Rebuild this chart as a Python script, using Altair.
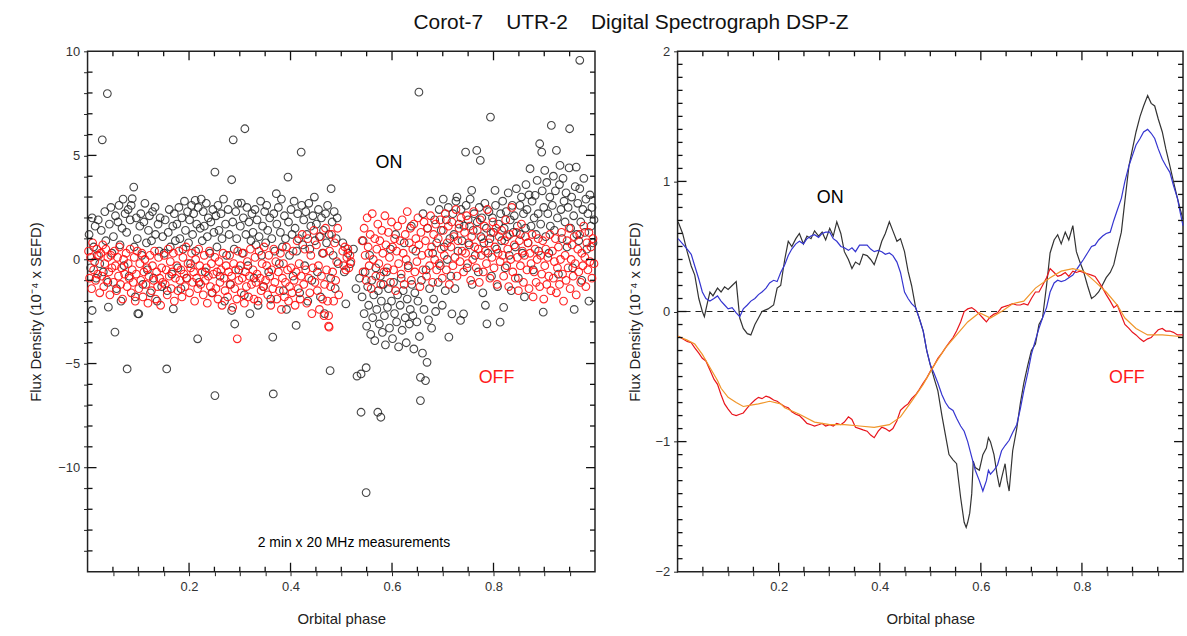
import altair as alt
import pandas as pd

# ---------------- left panel: individual 2-min measurements ----------------
on_points = [
    (0.003,1.2),(0.006,-0.4),(0.009,2.0),(0.009,-2.45),(0.012,0.6),(0.015,1.6),(0.017,-0.9),(0.019,0.2),(0.021,1.9),(0.024,-0.2),
    (0.027,1.4),(0.029,5.75),(0.031,-0.6),(0.034,2.3),(0.036,0.9),(0.039,7.97),(0.040,-1.1),(0.041,-2.29),(0.043,1.7),(0.046,2.5),(0.048,0.3),
    (0.051,1.1),(0.054,-3.49),(0.055,2.1),(0.057,-1.4),(0.060,1.8),(0.062,2.6),(0.064,0.7),(0.066,-2.0),(0.068,1.5),(0.070,2.9),(0.072,-0.3),(0.074,2.2),
    (0.077,1.3),(0.078,-5.26),(0.080,2.4),(0.082,-0.8),(0.084,1.9),(0.086,2.6),(0.088,2.92),(0.091,3.48),(0.092,0.6),(0.094,-1.8),(0.096,2.0),(0.098,1.0),(0.099,-2.6),
    (0.101,-2.61),(0.103,1.6),(0.105,2.2),(0.107,0.2),(0.109,-1.2),(0.111,1.8),(0.113,2.7),(0.116,0.8),(0.118,-0.5),(0.120,1.4),(0.122,2.1),(0.124,-1.6),
    (0.126,0.9),(0.128,2.3),(0.130,-0.9),(0.133,2.51),(0.134,1.2),(0.137,-2.0),(0.139,1.7),(0.141,0.4),(0.143,2.0),(0.146,-1.3),(0.148,1.1),
    (0.151,0.3),(0.153,1.9),(0.156,-5.26),(0.157,-1.5),(0.159,1.3),(0.161,2.4),(0.163,0.6),(0.166,-0.7),(0.168,1.6),(0.169,-2.37),(0.171,2.2),(0.173,0.9),
    (0.176,1.7),(0.178,-0.4),(0.180,2.5),(0.182,1.0),(0.184,-1.4),(0.186,2.0),(0.188,0.5),(0.191,2.8),(0.193,1.4),(0.195,-0.9),(0.197,2.3),(0.199,0.8),
    (0.201,1.9),(0.203,-0.2),(0.205,2.6),(0.207,1.2),(0.209,2.2),(0.212,2.84),(0.213,0.4),(0.215,1.7),(0.217,-3.81),(0.218,2.5),(0.220,-1.1),(0.222,1.5),(0.224,2.9),
    (0.226,0.9),(0.228,2.3),(0.230,1.6),(0.232,-0.6),(0.234,2.7),(0.236,1.1),(0.238,2.0),(0.241,0.3),(0.243,1.8),(0.245,-1.6),(0.247,2.4),(0.249,1.3),
    (0.251,4.2),(0.251,-6.54),(0.253,2.1),(0.255,0.6),(0.257,2.6),(0.259,1.4),(0.261,-0.8),(0.263,2.2),(0.265,1.0),(0.268,2.9),(0.270,-2.0),(0.272,1.7),(0.274,0.2),
    (0.277,2.4),(0.279,1.2),(0.281,-1.2),(0.284,3.83),(0.284,-2.45),(0.286,1.8),(0.287,5.75),(0.289,0.5),(0.290,-3.1),(0.292,2.3),(0.294,1.0),(0.296,2.7),(0.298,-0.5),
    (0.301,1.6),(0.303,2.71),(0.305,0.3),(0.307,2.0),(0.309,-1.7),(0.310,6.28),(0.312,1.2),(0.314,2.5),(0.316,-0.3),(0.318,1.8),(0.320,-2.6),(0.322,0.9),(0.324,2.2),
    (0.326,1.3),(0.328,-0.9),(0.330,2.4),(0.332,0.7),(0.334,1.9),(0.336,-2.2),(0.338,1.1),(0.341,2.8),(0.343,0.2),(0.345,1.6),(0.347,-1.3),(0.349,2.3),
    (0.351,0.8),(0.353,2.6),(0.355,1.4),(0.357,-0.6),(0.359,2.0),(0.361,-1.9),(0.363,1.0),(0.365,-3.73),(0.366,-6.46),(0.367,2.2),(0.369,0.4),(0.372,3.16),(0.373,1.7),
    (0.376,2.5),(0.378,-0.2),(0.380,1.3),(0.382,2.9),(0.384,0.6),(0.386,-1.5),(0.388,2.1),(0.390,1.0),(0.392,-2.4),(0.395,3.96),(0.396,1.8),(0.398,0.2),
    (0.401,2.4),(0.403,1.2),(0.405,-0.8),(0.407,2.8),(0.409,1.5),(0.411,-3.17),(0.412,0.4),(0.414,2.2),(0.416,1.0),(0.418,-1.6),(0.421,5.16),(0.422,2.6),(0.424,0.7),
    (0.426,1.9),(0.428,-0.3),(0.430,2.3),(0.432,1.2),(0.434,-2.0),(0.436,2.7),(0.438,0.5),(0.440,1.6),(0.442,-1.0),(0.444,2.1),(0.447,3.0),(0.448,0.9),
    (0.451,1.7),(0.453,-0.6),(0.455,2.4),(0.457,1.1),(0.459,-1.8),(0.461,2.0),(0.463,0.3),(0.465,1.4),(0.467,-2.6),(0.469,2.2),(0.471,0.8),(0.473,2.6),
    (0.476,1.2),(0.478,-5.34),(0.479,-0.9),(0.480,3.4),(0.482,1.8),(0.484,0.2),(0.486,2.3),(0.488,-1.4),(0.490,1.0),(0.492,2.0),(0.494,-0.2),
    (0.503,0.8),(0.506,-0.6),(0.509,-2.13),(0.513,0.3),(0.518,-0.2),(0.524,0.5),(0.529,-1.4),(0.531,-5.6),(0.536,-0.9),(0.539,-5.5),(0.539,-7.34),
    (0.541,-1.8),(0.543,0.9),(0.545,-2.6),(0.547,-0.6),(0.549,-5.2),(0.549,-11.2),(0.550,-3.2),(0.552,-1.3),(0.554,-2.2),(0.556,0.2),(0.558,-3.6),(0.560,-1.0),(0.562,-2.8),(0.564,-1.7),
    (0.566,-3.9),(0.568,-0.4),(0.570,-2.4),(0.572,-7.34),(0.573,-1.5),(0.575,-3.1),(0.577,-0.8),(0.578,-7.58),(0.579,-2.0),(0.581,-3.5),(0.583,-1.2),(0.585,-2.7),(0.587,-4.1),(0.589,-0.6),
    (0.591,-2.3),(0.593,-1.4),(0.595,-3.3),(0.597,0.5),(0.599,-2.0),(0.601,-3.8),(0.603,-1.1),(0.605,-2.6),(0.607,1.2),(0.609,-3.0),(0.611,-1.7),(0.613,-4.2),
    (0.616,-2.2),(0.618,-0.9),(0.620,-3.4),(0.622,-1.5),(0.624,0.8),(0.626,-2.8),(0.628,-4.0),(0.630,-1.9),(0.632,-0.3),(0.634,-3.1),(0.636,-2.4),(0.638,1.6),(0.639,-1.2),
    (0.641,-2.7),(0.643,-4.3),(0.645,-1.6),(0.647,0.4),(0.649,-3.0),(0.651,-2.0),(0.653,8.04),(0.654,-3.7),(0.656,-5.66),(0.656,-6.78),(0.658,-1.0),(0.660,-4.5),(0.661,2.2),(0.663,-2.4),
    (0.666,-5.82),(0.667,-0.5),(0.669,-4.94),(0.670,1.5),(0.672,-2.9),(0.674,-1.4),(0.676,2.8),(0.678,-3.3),(0.680,0.3),(0.682,-1.9),(0.684,1.9),(0.686,-2.5),(0.688,0.8),
    (0.691,-1.1),(0.693,2.4),(0.695,-0.3),(0.697,1.4),(0.699,-2.2),(0.701,2.9),(0.703,0.6),(0.705,-1.5),(0.707,1.9),(0.709,0.0),(0.711,2.5),(0.712,-3.73),(0.714,1.0),
    (0.716,-0.8),(0.718,-2.61),(0.720,2.2),(0.722,1.2),(0.724,-1.4),(0.726,2.8),(0.728,3.0),(0.730,0.4),(0.732,1.7),(0.735,-2.93),(0.736,2.4),(0.738,0.9),(0.741,-2.61),
    (0.742,1.6),(0.745,5.16),(0.746,2.6),(0.748,-0.4),(0.750,1.9),(0.752,0.7),(0.754,2.9),(0.757,3.32),(0.758,-1.2),(0.760,1.4),(0.762,2.2),(0.764,0.2),
    (0.767,5.24),(0.768,1.8),(0.770,-0.6),(0.772,2.5),(0.774,4.76),(0.775,1.1),(0.777,2.0),(0.779,-1.6),(0.781,0.8),(0.783,2.7),(0.784,-2.2),(0.786,1.5),(0.787,-3.09),(0.789,0.3),
    (0.791,2.3),(0.793,1.0),(0.794,6.84),(0.796,-0.8),(0.798,2.0),(0.800,1.3),(0.803,3.32),(0.804,2.6),(0.806,0.5),(0.808,-1.3),(0.810,1.7),(0.813,-3.01),(0.814,2.2),
    (0.816,0.9),(0.818,2.8),(0.820,-2.3),(0.821,1.5),(0.823,-0.4),(0.825,2.3),(0.827,1.1),(0.829,3.2),(0.831,0.2),(0.833,1.9),(0.835,-1.5),(0.837,2.6),(0.839,1.3),
    (0.841,2.1),(0.843,0.6),(0.845,3.4),(0.847,1.6),(0.849,-0.9),(0.852,2.6),(0.853,1.2),(0.855,3.0),(0.857,0.3),(0.859,2.2),(0.861,-1.8),(0.863,1.5),(0.864,3.6),
    (0.866,2.4),(0.868,0.8),(0.870,3.1),(0.872,4.36),(0.874,1.6),(0.876,2.8),(0.878,-0.5),(0.880,2.0),(0.882,3.08),(0.884,1.2),(0.886,3.8),(0.888,2.2),(0.889,0.4),
    (0.891,5.56),(0.893,1.7),(0.895,5.16),(0.896,3.3),(0.898,-2.53),(0.899,2.5),(0.901,4.28),(0.903,1.1),(0.905,3.7),(0.907,2.2),(0.909,0.3),(0.911,3.0),(0.912,1.6),(0.914,6.44),
    (0.916,2.6),(0.918,4.0),(0.920,1.4),(0.922,3.3),(0.924,5.24),(0.926,2.0),(0.928,-0.7),(0.930,3.6),(0.931,4.52),(0.933,2.4),(0.935,1.0),(0.937,3.9),(0.939,2.8),
    (0.941,1.8),(0.943,3.2),(0.945,0.6),(0.947,2.5),(0.949,4.4),(0.950,6.28),(0.952,1.5),(0.954,3.0),(0.956,-0.4),(0.958,2.1),(0.959,-2.4),(0.961,3.5),(0.963,4.44),(0.964,1.2),
    (0.966,2.7),(0.968,0.9),(0.970,3.4),(0.970,9.57),(0.972,1.8),(0.974,-1.0),(0.976,2.4),(0.978,3.9),(0.980,1.3),(0.982,2.9),(0.984,0.5),(0.986,2.2),(0.988,-2.0),(0.990,3.1),(0.992,1.6),(0.994,2.5),(0.996,0.8),(0.998,1.9),
]

off_points = [
    (0.002,0.4),(0.004,-0.9),(0.006,0.1),(0.008,-1.4),(0.010,0.8),(0.012,-0.5),(0.014,-0.1),(0.016,-1.0),(0.018,0.5),(0.020,-0.7),(0.022,0.2),(0.024,-1.6),
    (0.026,0.3),(0.028,-0.8),(0.030,0.7),(0.032,-1.3),(0.034,-0.2),(0.036,0.5),(0.038,-1.0),(0.040,0.1),(0.042,-0.6),(0.044,-1.7),(0.046,0.2),(0.048,-0.4),
    (0.051,-1.1),(0.053,0.4),(0.055,-0.3),(0.057,-1.5),(0.059,0.1),(0.061,-0.8),(0.063,0.6),(0.065,-1.2),(0.067,-0.4),(0.069,-1.9),(0.071,0.0),(0.073,-0.7),
    (0.076,0.3),(0.078,-1.3),(0.080,-0.2),(0.082,-0.9),(0.084,0.5),(0.086,-1.6),(0.088,-0.5),(0.090,-1.1),(0.092,0.1),(0.094,-2.0),(0.096,-0.7),(0.098,0.4),
    (0.101,-1.4),(0.103,-0.2),(0.105,-1.0),(0.107,0.3),(0.109,-1.8),(0.111,-0.6),(0.113,0.0),(0.115,-1.2),(0.117,-0.4),(0.119,-2.1),(0.121,-0.8),(0.123,0.2),
    (0.126,-1.5),(0.128,-0.3),(0.130,-1.0),(0.132,0.4),(0.134,-1.9),(0.136,-0.6),(0.138,-1.3),(0.140,0.1),(0.142,-0.9),(0.144,-2.2),(0.146,-0.4),(0.148,-1.1),
    (0.151,0.2),(0.153,-1.2),(0.155,-0.5),(0.157,-1.7),(0.159,0.5),(0.161,-0.8),(0.163,-0.1),(0.165,-1.4),(0.167,-0.6),(0.169,0.3),(0.171,-2.0),(0.173,-0.9),
    (0.176,-0.3),(0.178,-1.5),(0.180,0.4),(0.182,-1.0),(0.184,-0.5),(0.186,-1.8),(0.188,0.1),(0.190,-0.7),(0.192,-1.3),(0.194,0.6),(0.196,-0.9),(0.198,-0.2),
    (0.201,-1.6),(0.203,-0.4),(0.205,0.3),(0.207,-1.1),(0.209,-0.6),(0.211,-2.0),(0.213,0.0),(0.215,-0.9),(0.217,-1.4),(0.219,0.5),(0.221,-0.3),(0.223,-1.2),
    (0.226,-0.6),(0.228,-1.7),(0.230,0.2),(0.232,-1.0),(0.234,-0.4),(0.236,-2.1),(0.238,-0.8),(0.240,0.4),(0.242,-1.3),(0.244,-0.2),(0.246,-1.6),(0.248,-0.7),
    (0.251,0.1),(0.253,-1.4),(0.255,-0.6),(0.257,-1.9),(0.259,-0.1),(0.261,-1.1),(0.263,-0.5),(0.265,-2.2),(0.267,0.3),(0.269,-0.9),(0.271,-1.5),(0.273,-0.3),
    (0.276,-1.8),(0.278,-0.6),(0.280,0.2),(0.282,-1.2),(0.284,-0.8),(0.286,-2.3),(0.288,-0.2),(0.290,-1.4),(0.292,-0.5),(0.294,-1.9),(0.295,-3.81),(0.296,0.4),(0.298,-1.0),
    (0.301,-0.3),(0.303,-1.6),(0.305,-0.9),(0.307,0.3),(0.309,-2.1),(0.311,-0.6),(0.313,-1.3),(0.315,-0.1),(0.317,-1.8),(0.319,-0.8),(0.321,0.5),(0.323,-1.2),
    (0.326,-0.5),(0.328,-1.9),(0.330,0.1),(0.332,-1.1),(0.334,-0.7),(0.336,-2.0),(0.338,0.4),(0.340,-0.9),(0.342,-1.5),(0.344,-0.2),(0.346,-1.3),(0.348,0.6),
    (0.351,-1.0),(0.353,-0.3),(0.355,-1.7),(0.357,0.2),(0.359,-0.8),(0.361,-2.2),(0.363,-0.5),(0.365,-1.4),(0.367,0.5),(0.369,-1.1),(0.371,-0.1),(0.373,-1.9),
    (0.376,-0.6),(0.378,-1.5),(0.380,0.3),(0.382,-2.4),(0.384,-0.9),(0.386,-0.2),(0.388,-1.8),(0.390,-1.1),(0.392,0.6),(0.394,-0.5),(0.396,-2.0),(0.398,-1.3),
    (0.401,-0.4),(0.403,-1.6),(0.405,0.4),(0.407,-1.0),(0.409,-2.2),(0.411,-0.6),(0.413,0.9),(0.415,-1.4),(0.417,-0.2),(0.419,-1.9),(0.421,-0.8),(0.423,1.2),
    (0.426,-1.2),(0.428,0.5),(0.430,-0.5),(0.432,-2.1),(0.434,1.0),(0.436,-0.9),(0.438,-1.6),(0.440,0.2),(0.442,-2.6),(0.444,-0.4),(0.446,1.4),(0.448,-1.1),
    (0.451,0.7),(0.453,-1.5),(0.455,-0.3),(0.457,-2.4),(0.459,1.1),(0.461,-0.8),(0.463,-1.9),(0.465,0.3),(0.466,-2.7),(0.467,-1.2),(0.469,1.5),(0.471,-0.5),(0.473,-2.0),
    (0.475,-3.2),(0.475,-2.7),(0.476,-3.25),(0.477,0.4),(0.479,-1.3),(0.481,1.2),(0.483,-0.6),(0.485,-2.0),(0.487,0.8),(0.489,-1.0),(0.491,-0.1),(0.493,1.5),(0.495,-1.7),
    (0.503,0.4),(0.505,-0.3),(0.507,0.6),(0.509,-0.5),(0.511,0.1),(0.513,0.5),(0.515,-0.4),(0.517,0.2),(0.519,-0.1),
    (0.541,0.9),(0.543,-0.6),(0.545,1.5),(0.547,0.2),(0.549,-1.0),(0.551,2.0),(0.553,0.6),(0.555,-0.3),(0.557,1.2),(0.559,-1.4),(0.561,2.2),(0.563,0.0),
    (0.566,1.0),(0.568,-0.8),(0.570,0.5),(0.572,1.7),(0.574,-0.2),(0.576,0.9),(0.578,-1.2),(0.580,1.4),(0.582,0.3),(0.584,-0.6),(0.586,2.1),(0.588,0.7),
    (0.591,-0.4),(0.593,1.3),(0.595,0.1),(0.597,-1.1),(0.599,1.8),(0.601,0.6),(0.603,-0.5),(0.605,1.0),(0.607,-1.5),(0.609,0.4),(0.611,1.6),(0.613,-0.2),
    (0.616,0.9),(0.618,-0.7),(0.620,1.9),(0.622,0.3),(0.624,-1.2),(0.626,1.2),(0.628,0.0),(0.630,2.3),(0.632,-0.4),(0.634,0.8),(0.636,1.5),(0.638,-1.0),
    (0.641,0.5),(0.643,1.7),(0.645,-0.6),(0.647,1.0),(0.649,-0.1),(0.651,2.0),(0.653,0.7),(0.655,-1.3),(0.657,1.3),(0.659,0.2),(0.661,-0.5),(0.663,1.8),
    (0.666,0.9),(0.668,-0.8),(0.670,1.5),(0.672,0.3),(0.674,-0.3),(0.676,2.1),(0.678,0.6),(0.680,-1.1),(0.682,1.2),(0.684,0.0),(0.686,1.7),(0.688,-0.5),
    (0.691,1.0),(0.693,-0.2),(0.695,1.9),(0.697,0.5),(0.699,-0.9),(0.701,1.4),(0.703,0.2),(0.705,2.2),(0.707,-0.5),(0.709,0.8),(0.711,1.6),(0.713,-1.2),
    (0.716,0.6),(0.718,1.8),(0.720,-0.3),(0.722,1.1),(0.724,0.1),(0.726,2.4),(0.728,-0.8),(0.730,0.9),(0.732,1.5),(0.734,-0.1),(0.736,2.0),(0.738,0.4),
    (0.741,-0.6),(0.743,1.3),(0.745,0.3),(0.747,2.1),(0.749,-0.2),(0.751,0.8),(0.753,1.6),(0.755,-1.0),(0.757,1.1),(0.759,0.0),(0.761,2.3),(0.763,0.6),
    (0.766,-0.4),(0.768,1.4),(0.770,0.5),(0.772,-1.1),(0.774,1.9),(0.776,0.2),(0.778,1.0),(0.780,-0.6),(0.782,1.6),(0.784,0.4),(0.786,-0.2),(0.788,2.4),
    (0.791,0.8),(0.793,-0.9),(0.795,1.3),(0.797,0.1),(0.799,1.8),(0.801,-0.4),(0.803,0.6),(0.805,1.5),(0.807,-1.2),(0.809,0.3),(0.811,1.1),(0.813,-0.1),
    (0.816,1.4),(0.818,0.2),(0.820,-0.8),(0.822,0.9),(0.824,1.9),(0.826,-0.3),(0.828,0.5),(0.830,-1.3),(0.832,1.2),(0.834,0.0),(0.836,2.5),(0.838,-0.6),
    (0.841,0.7),(0.843,-0.9),(0.845,1.3),(0.847,0.1),(0.849,-1.5),(0.851,0.9),(0.853,-0.3),(0.855,1.7),(0.857,0.4),(0.859,-1.1),(0.861,0.2),(0.863,1.1),
    (0.866,-0.5),(0.868,0.8),(0.870,-1.4),(0.872,0.3),(0.874,-0.2),(0.876,1.2),(0.878,-1.8),(0.880,-0.6),(0.882,0.5),(0.884,-1.1),(0.886,0.0),(0.888,1.0),
    (0.891,-1.3),(0.893,0.2),(0.895,-0.7),(0.897,0.9),(0.899,-1.9),(0.901,-0.3),(0.903,0.5),(0.905,-1.2),(0.907,0.1),(0.909,-0.8),(0.911,1.2),(0.913,-1.5),
    (0.916,0.4),(0.918,-0.9),(0.920,-0.1),(0.922,1.0),(0.924,-1.6),(0.926,-0.4),(0.928,0.6),(0.930,-1.2),(0.932,0.0),(0.934,1.3),(0.936,-0.7),(0.938,-2.0),
    (0.941,0.2),(0.943,-1.0),(0.945,0.9),(0.947,-0.4),(0.949,1.5),(0.951,-1.4),(0.953,0.0),(0.955,0.7),(0.957,-0.8),(0.959,1.1),(0.961,-0.2),(0.963,-1.7),
    (0.966,0.5),(0.968,-0.6),(0.970,1.2),(0.972,-1.1),(0.974,0.3),(0.976,-0.3),(0.978,1.6),(0.980,0.1),(0.982,-1.3),(0.984,0.8),(0.986,-0.5),(0.988,1.3),(0.990,-0.1),(0.992,0.6),(0.994,-0.9),(0.996,1.0),(0.998,-0.2),
]

# ---------------- right panel: running means ----------------
on_black = [
    (0.001,0.69),(0.010,0.60),(0.019,0.46),(0.027,0.35),(0.034,0.28),(0.042,0.10),(0.049,0.00),(0.053,-0.04),(0.058,0.05),(0.064,0.15),
    (0.070,0.12),(0.079,0.18),(0.086,0.15),(0.093,0.19),(0.100,0.17),(0.108,0.20),(0.116,0.23),(0.123,-0.05),(0.130,-0.13),(0.138,-0.17),
    (0.145,-0.18),(0.153,-0.10),(0.160,-0.05),(0.167,0.00),(0.179,0.02),(0.190,0.05),(0.197,0.18),(0.204,0.20),(0.212,0.40),(0.219,0.54),
    (0.226,0.50),(0.234,0.56),(0.241,0.60),(0.249,0.52),(0.256,0.58),(0.264,0.56),(0.271,0.62),(0.279,0.58),(0.286,0.61),(0.293,0.55),
    (0.301,0.64),(0.308,0.58),(0.315,0.69),(0.323,0.60),(0.330,0.46),(0.338,0.40),(0.345,0.33),(0.352,0.38),(0.360,0.36),(0.367,0.44),
    (0.375,0.43),(0.382,0.40),(0.389,0.36),(0.397,0.45),(0.404,0.54),(0.411,0.60),(0.419,0.69),(0.426,0.62),(0.434,0.54),(0.441,0.56),
    (0.449,0.46),(0.456,0.31),(0.463,0.20),(0.471,0.03),(0.478,-0.05),(0.486,-0.15),(0.493,-0.30),(0.500,-0.41),(0.508,-0.52),(0.515,-0.61),
    (0.523,-0.80),(0.530,-0.95),(0.537,-1.10),(0.545,-1.14),(0.552,-1.17),(0.560,-1.43),(0.567,-1.62),(0.571,-1.66),(0.574,-1.62),(0.578,-1.55),
    (0.582,-1.40),(0.585,-1.15),(0.589,-1.20),(0.597,-1.22),(0.604,-1.10),(0.611,-1.05),(0.615,-0.97),(0.619,-1.00),(0.626,-1.10),(0.632,-1.25),
    (0.637,-1.35),(0.641,-1.28),(0.648,-1.17),(0.652,-1.30),(0.656,-1.38),(0.663,-1.07),(0.671,-0.90),(0.678,-0.71),(0.685,-0.55),(0.693,-0.41),
    (0.700,-0.30),(0.708,-0.25),(0.715,-0.10),(0.722,-0.05),(0.730,0.20),(0.737,0.45),(0.745,0.55),(0.752,0.59),(0.759,0.52),(0.767,0.61),
    (0.774,0.55),(0.782,0.66),(0.789,0.46),(0.796,0.38),(0.803,0.31),(0.811,0.20),(0.819,0.10),(0.826,0.12),(0.833,0.15),(0.840,0.20),
    (0.848,0.26),(0.856,0.30),(0.863,0.36),(0.870,0.48),(0.878,0.61),(0.885,0.85),(0.893,1.12),(0.900,1.25),(0.907,1.38),(0.915,1.50),
    (0.922,1.58),(0.930,1.66),(0.937,1.60),(0.944,1.58),(0.951,1.48),(0.959,1.38),(0.966,1.25),(0.974,1.12),(0.981,1.00),(0.989,0.87),
    (0.995,0.78),(1.000,0.71),
]

on_blue = [
    (0.001,0.56),(0.010,0.52),(0.019,0.48),(0.027,0.44),(0.034,0.35),(0.042,0.25),(0.049,0.15),(0.056,0.10),(0.064,0.08),(0.072,0.10),
    (0.079,0.12),(0.086,0.08),(0.093,0.05),(0.100,0.02),(0.108,0.03),(0.116,-0.01),(0.123,-0.04),(0.130,0.02),(0.138,0.05),(0.145,0.08),
    (0.153,0.10),(0.160,0.13),(0.167,0.15),(0.175,0.18),(0.182,0.22),(0.190,0.24),(0.197,0.23),(0.204,0.30),(0.212,0.36),(0.219,0.43),
    (0.226,0.48),(0.234,0.52),(0.241,0.54),(0.249,0.52),(0.256,0.56),(0.264,0.58),(0.271,0.59),(0.279,0.57),(0.286,0.60),(0.293,0.61),
    (0.301,0.61),(0.308,0.56),(0.315,0.54),(0.323,0.50),(0.330,0.49),(0.338,0.47),(0.345,0.49),(0.352,0.46),(0.360,0.51),(0.367,0.51),
    (0.375,0.51),(0.382,0.48),(0.389,0.46),(0.397,0.47),(0.404,0.46),(0.411,0.44),(0.419,0.45),(0.426,0.43),(0.434,0.38),(0.441,0.30),
    (0.449,0.15),(0.456,0.10),(0.463,0.06),(0.471,0.03),(0.478,-0.05),(0.486,-0.15),(0.493,-0.30),(0.500,-0.41),(0.508,-0.48),(0.515,-0.55),
    (0.523,-0.64),(0.530,-0.70),(0.537,-0.74),(0.545,-0.76),(0.552,-0.82),(0.560,-0.88),(0.567,-0.92),(0.574,-1.00),(0.582,-1.12),(0.589,-1.22),
    (0.597,-1.30),(0.604,-1.38),(0.611,-1.30),(0.615,-1.22),(0.619,-1.25),(0.626,-1.22),(0.633,-1.18),(0.641,-1.07),(0.648,-1.03),(0.656,-0.99),
    (0.663,-0.93),(0.671,-0.87),(0.678,-0.75),(0.685,-0.61),(0.693,-0.47),(0.700,-0.33),(0.708,-0.22),(0.715,-0.13),(0.722,-0.05),(0.730,0.03),
    (0.737,0.15),(0.745,0.22),(0.752,0.24),(0.759,0.23),(0.767,0.24),(0.774,0.26),(0.782,0.28),(0.789,0.32),(0.796,0.36),(0.803,0.40),
    (0.811,0.45),(0.819,0.50),(0.826,0.51),(0.833,0.55),(0.841,0.58),(0.848,0.60),(0.856,0.61),(0.863,0.70),(0.870,0.78),(0.878,0.87),
    (0.885,1.00),(0.893,1.12),(0.900,1.20),(0.907,1.28),(0.915,1.33),(0.922,1.38),(0.930,1.40),(0.937,1.37),(0.944,1.33),(0.951,1.25),
    (0.959,1.17),(0.966,1.12),(0.974,1.07),(0.981,0.97),(0.989,0.87),(0.995,0.75),(1.000,0.66),
]

off_red = [
    (0.001,-0.19),(0.010,-0.21),(0.019,-0.23),(0.027,-0.24),(0.034,-0.28),(0.042,-0.32),(0.049,-0.36),(0.056,-0.38),(0.064,-0.45),(0.072,-0.52),
    (0.079,-0.56),(0.086,-0.64),(0.093,-0.71),(0.100,-0.75),(0.108,-0.79),(0.116,-0.80),(0.123,-0.79),(0.130,-0.78),(0.138,-0.74),(0.145,-0.71),
    (0.153,-0.68),(0.160,-0.66),(0.167,-0.67),(0.175,-0.65),(0.182,-0.66),(0.190,-0.68),(0.197,-0.69),(0.204,-0.71),(0.212,-0.73),(0.219,-0.74),
    (0.226,-0.77),(0.234,-0.79),(0.241,-0.80),(0.249,-0.83),(0.256,-0.86),(0.264,-0.87),(0.271,-0.88),(0.279,-0.87),(0.286,-0.86),(0.293,-0.88),
    (0.301,-0.87),(0.308,-0.88),(0.315,-0.86),(0.323,-0.87),(0.330,-0.85),(0.338,-0.81),(0.345,-0.83),(0.352,-0.89),(0.360,-0.90),(0.367,-0.91),
    (0.375,-0.92),(0.382,-0.95),(0.389,-0.97),(0.397,-0.92),(0.404,-0.89),(0.411,-0.90),(0.419,-0.92),(0.426,-0.90),(0.434,-0.84),(0.441,-0.76),
    (0.449,-0.73),(0.456,-0.71),(0.463,-0.67),(0.471,-0.64),(0.478,-0.60),(0.486,-0.55),(0.493,-0.51),(0.500,-0.46),(0.508,-0.41),(0.515,-0.36),
    (0.523,-0.32),(0.530,-0.28),(0.537,-0.24),(0.545,-0.20),(0.552,-0.15),(0.560,-0.08),(0.567,0.00),(0.574,0.02),(0.582,0.03),(0.589,0.01),
    (0.597,-0.02),(0.604,-0.05),(0.611,-0.08),(0.619,-0.04),(0.626,-0.02),(0.633,-0.01),(0.641,0.03),(0.648,0.04),(0.656,0.05),(0.663,0.06),
    (0.671,0.05),(0.678,0.05),(0.685,0.06),(0.693,0.05),(0.700,0.10),(0.708,0.15),(0.715,0.15),(0.722,0.20),(0.730,0.26),(0.737,0.33),
    (0.745,0.30),(0.752,0.27),(0.759,0.28),(0.767,0.30),(0.774,0.27),(0.782,0.31),(0.789,0.30),(0.796,0.31),(0.803,0.30),(0.811,0.29),
    (0.819,0.28),(0.826,0.27),(0.833,0.23),(0.841,0.18),(0.848,0.13),(0.856,0.08),(0.863,0.03),(0.870,0.05),(0.878,-0.03),(0.885,-0.10),
    (0.893,-0.13),(0.900,-0.16),(0.907,-0.18),(0.915,-0.21),(0.922,-0.23),(0.930,-0.21),(0.937,-0.20),(0.944,-0.17),(0.951,-0.14),(0.959,-0.13),
    (0.966,-0.15),(0.974,-0.15),(0.981,-0.16),(0.989,-0.18),(1.000,-0.18),
]

off_orange = [
    (0.001,-0.19),(0.019,-0.22),(0.034,-0.25),(0.049,-0.33),(0.064,-0.43),(0.079,-0.53),(0.086,-0.59),(0.100,-0.66),(0.116,-0.70),(0.130,-0.73),
    (0.145,-0.72),(0.160,-0.71),(0.182,-0.69),(0.204,-0.71),(0.212,-0.74),(0.241,-0.79),(0.271,-0.85),(0.301,-0.87),(0.330,-0.87),(0.360,-0.88),
    (0.389,-0.89),(0.419,-0.87),(0.441,-0.81),(0.463,-0.69),(0.486,-0.56),(0.508,-0.41),(0.530,-0.28),(0.552,-0.18),(0.574,-0.08),(0.597,-0.01),
    (0.619,-0.05),(0.641,0.00),(0.663,0.06),(0.685,0.08),(0.708,0.18),(0.737,0.26),(0.759,0.31),(0.782,0.33),(0.803,0.31),(0.826,0.23),
    (0.848,0.15),(0.870,0.05),(0.885,-0.05),(0.907,-0.13),(0.930,-0.18),(0.959,-0.18),(0.989,-0.19),(1.000,-0.20),
]

# annotation texts (phase, flux, text)
left_notes_on = [(0.594, 4.65, "ON")]
left_notes_off = [(0.806, -5.7, "OFF")]
left_notes_meas = [(0.525, -13.6, "2 min x 20 MHz measurements")]
right_notes_on = [(0.302, 0.87, "ON")]
right_notes_off = [(0.889, -0.51, "OFF")]

# axis tick values
x_labels = [0.2, 0.4, 0.6, 0.8]
x_minor = [0.05, 0.1, 0.15, 0.25, 0.3, 0.35, 0.45, 0.5, 0.55, 0.65, 0.7, 0.75, 0.85, 0.9, 0.95]
ly_labels = [-10, -5, 0, 5, 10]
ly_major = [-10, -5, 0, 5]
ly_minor = [-14, -13, -12, -11, -9, -8, -7, -6, -4, -3, -2, -1, 1, 2, 3, 4, 6, 7, 8, 9]
ry_labels = [-2, -1, 0, 1, 2]
ry_major = [-1, 0, 1]
ry_minor = [-1.9, -1.8, -1.7, -1.6, -1.5, -1.4, -1.3, -1.2, -1.1,
            -0.9, -0.8, -0.7, -0.6, -0.5, -0.4, -0.3, -0.2, -0.1,
            0.1, 0.2, 0.3, 0.4, 0.5, 0.6, 0.7, 0.8, 0.9,
            1.1, 1.2, 1.3, 1.4, 1.5, 1.6, 1.7, 1.8, 1.9]

FONT = "Liberation Sans"
LW, LH = 510, 523
RW, RH = 508, 523
YTITLE = "Flux Density (10\u207b\u2074 x SEFD)"
NB = "\u00a0"
TICK = 4

AXSTYLE = dict(grid=False, domain=False, ticks=True, tickSize=TICK, tickColor="#222", tickWidth=1,
               labelOverlap=False, labelFont=FONT, labelFontSize=13, labelColor="#333",
               titleFont=FONT, titleFontSize=15, titleFontWeight="normal", titleColor="#222")


def pts(lst):
    return pd.DataFrame(lst, columns=["phase", "flux"])


def notes(lst):
    return pd.DataFrame(lst, columns=["phase", "flux", "label"])


def label_only(vals):
    return "indexof(" + str(list(vals)) + ", datum.value) >= 0 ? datum.label : ''"


XAX = alt.Axis(values=sorted(x_labels + x_minor), labelExpr=label_only(x_labels), title="Orbital phase",
               format=".1f", labelPadding=9 - TICK, titlePadding=18, **AXSTYLE)
LYAX = alt.Axis(values=sorted(ly_labels + ly_minor), labelExpr=label_only(ly_labels), title=YTITLE,
                format="d", labelPadding=8 - TICK, titlePadding=14, **AXSTYLE)
RYAX = alt.Axis(values=ry_labels, title=YTITLE, format="d", labelPadding=8 - TICK, titlePadding=12, **AXSTYLE)


def tick_layers(xs, ys, xdom, ydom, xax, yax, W, H, ymaj, ymin):
    """Inward tick marks on all four sides, drawn as rules through the panel scales."""
    layers = []
    xu = (xdom[1] - xdom[0]) / W
    yu = (ydom[1] - ydom[0]) / H
    for vals, L in ((x_labels, 9), (x_minor, 5)):
        for y0, y1 in ((ydom[0], ydom[0] + L * yu), (ydom[1], ydom[1] - L * yu)):
            d = pd.DataFrame({"phase": vals, "flux": [y0] * len(vals), "flux2": [y1] * len(vals)})
            layers.append(alt.Chart(d).mark_rule(color="#111", strokeWidth=1.3).encode(
                x=alt.X("phase:Q", scale=xs, axis=xax),
                y=alt.Y("flux:Q", scale=ys, axis=yax), y2="flux2:Q"))
    for vals, L in ((ymaj, 9), (ymin, 5)):
        for x0, x1 in ((xdom[0], xdom[0] + L * xu), (xdom[1], xdom[1] - L * xu)):
            d = pd.DataFrame({"flux": vals, "phase": [x0] * len(vals), "phase2": [x1] * len(vals)})
            layers.append(alt.Chart(d).mark_rule(color="#111", strokeWidth=1.3).encode(
                y=alt.Y("flux:Q", scale=ys, axis=yax),
                x=alt.X("phase:Q", scale=xs, axis=xax), x2="phase2:Q"))
    return layers


def text_layer(df, xs, ys, xax, yax, color, size):
    return alt.Chart(df).mark_text(font=FONT, fontSize=size, color=color, align="center", baseline="middle").encode(
        x=alt.X("phase:Q", scale=xs, axis=xax), y=alt.Y("flux:Q", scale=ys, axis=yax), text="label:N")


# ---------- left ----------
LXD, LYD = [0, 1], [-15, 10]
lxs = alt.Scale(domain=LXD, nice=False, zero=False)
lys = alt.Scale(domain=LYD, nice=False, zero=False)


def scatter(lst, color, op):
    return alt.Chart(pts(lst)).mark_point(shape="circle", filled=False, size=60, strokeWidth=1.1, color=color, opacity=op).encode(
        x=alt.X("phase:Q", scale=lxs, axis=XAX), y=alt.Y("flux:Q", scale=lys, axis=LYAX))


left = alt.layer(
    scatter(on_points, "#262626", 0.85),
    scatter(off_points, "#ff1010", 0.9),
    text_layer(notes(left_notes_on), lxs, lys, XAX, LYAX, "black", 18),
    text_layer(notes(left_notes_off), lxs, lys, XAX, LYAX, "#ff1a1a", 18),
    text_layer(notes(left_notes_meas), lxs, lys, XAX, LYAX, "black", 14),
    *tick_layers(lxs, lys, LXD, LYD, XAX, LYAX, LW, LH, ly_major, ly_minor),
).properties(width=LW, height=LH)

# ---------- right ----------
RXD, RYD = [0, 1], [-2, 2]
rxs = alt.Scale(domain=RXD, nice=False, zero=False)
rys = alt.Scale(domain=RYD, nice=False, zero=False)

zero_df = pd.DataFrame({"flux": [0]})
zero_line = alt.Chart(zero_df).mark_rule(color="#222", strokeWidth=1.2, strokeDash=[6, 5]).encode(
    y=alt.Y("flux:Q", scale=rys, axis=RYAX))


def line_layer(lst, color, w):
    return alt.Chart(pts(lst)).mark_line(color=color, strokeWidth=w, interpolate="linear").encode(
        x=alt.X("phase:Q", scale=rxs, axis=XAX), y=alt.Y("flux:Q", scale=rys, axis=RYAX), order="phase:Q")


right = alt.layer(
    zero_line,
    line_layer(on_black, "#333333", 1.2),
    line_layer(on_blue, "#3535d0", 1.2),
    line_layer(off_red, "#e8141c", 1.2),
    line_layer(off_orange, "#f0962a", 1.2),
    text_layer(notes(right_notes_on), rxs, rys, XAX, RYAX, "black", 18),
    text_layer(notes(right_notes_off), rxs, rys, XAX, RYAX, "#ff1a1a", 18),
    *tick_layers(rxs, rys, RXD, RYD, XAX, RYAX, RW, RH, ry_major, ry_minor),
).properties(width=RW, height=RH)

title_text = f"Corot-7{NB*4}UTR-2{NB*4}Digital Spectrograph DSP-Z"

chart = alt.hconcat(left, right, spacing=26).properties(
    title=alt.Title(title_text, font=FONT, fontSize=21, fontWeight="normal",
                    color="#111", anchor="middle", dx=24, offset=12),
    padding={"left": 28, "top": 10, "right": 0, "bottom": 0},
    background="white",
).configure_view(stroke="#222", strokeWidth=1.5)

chart.save("out.html", embed_options={"renderer": "svg", "actions": False})
